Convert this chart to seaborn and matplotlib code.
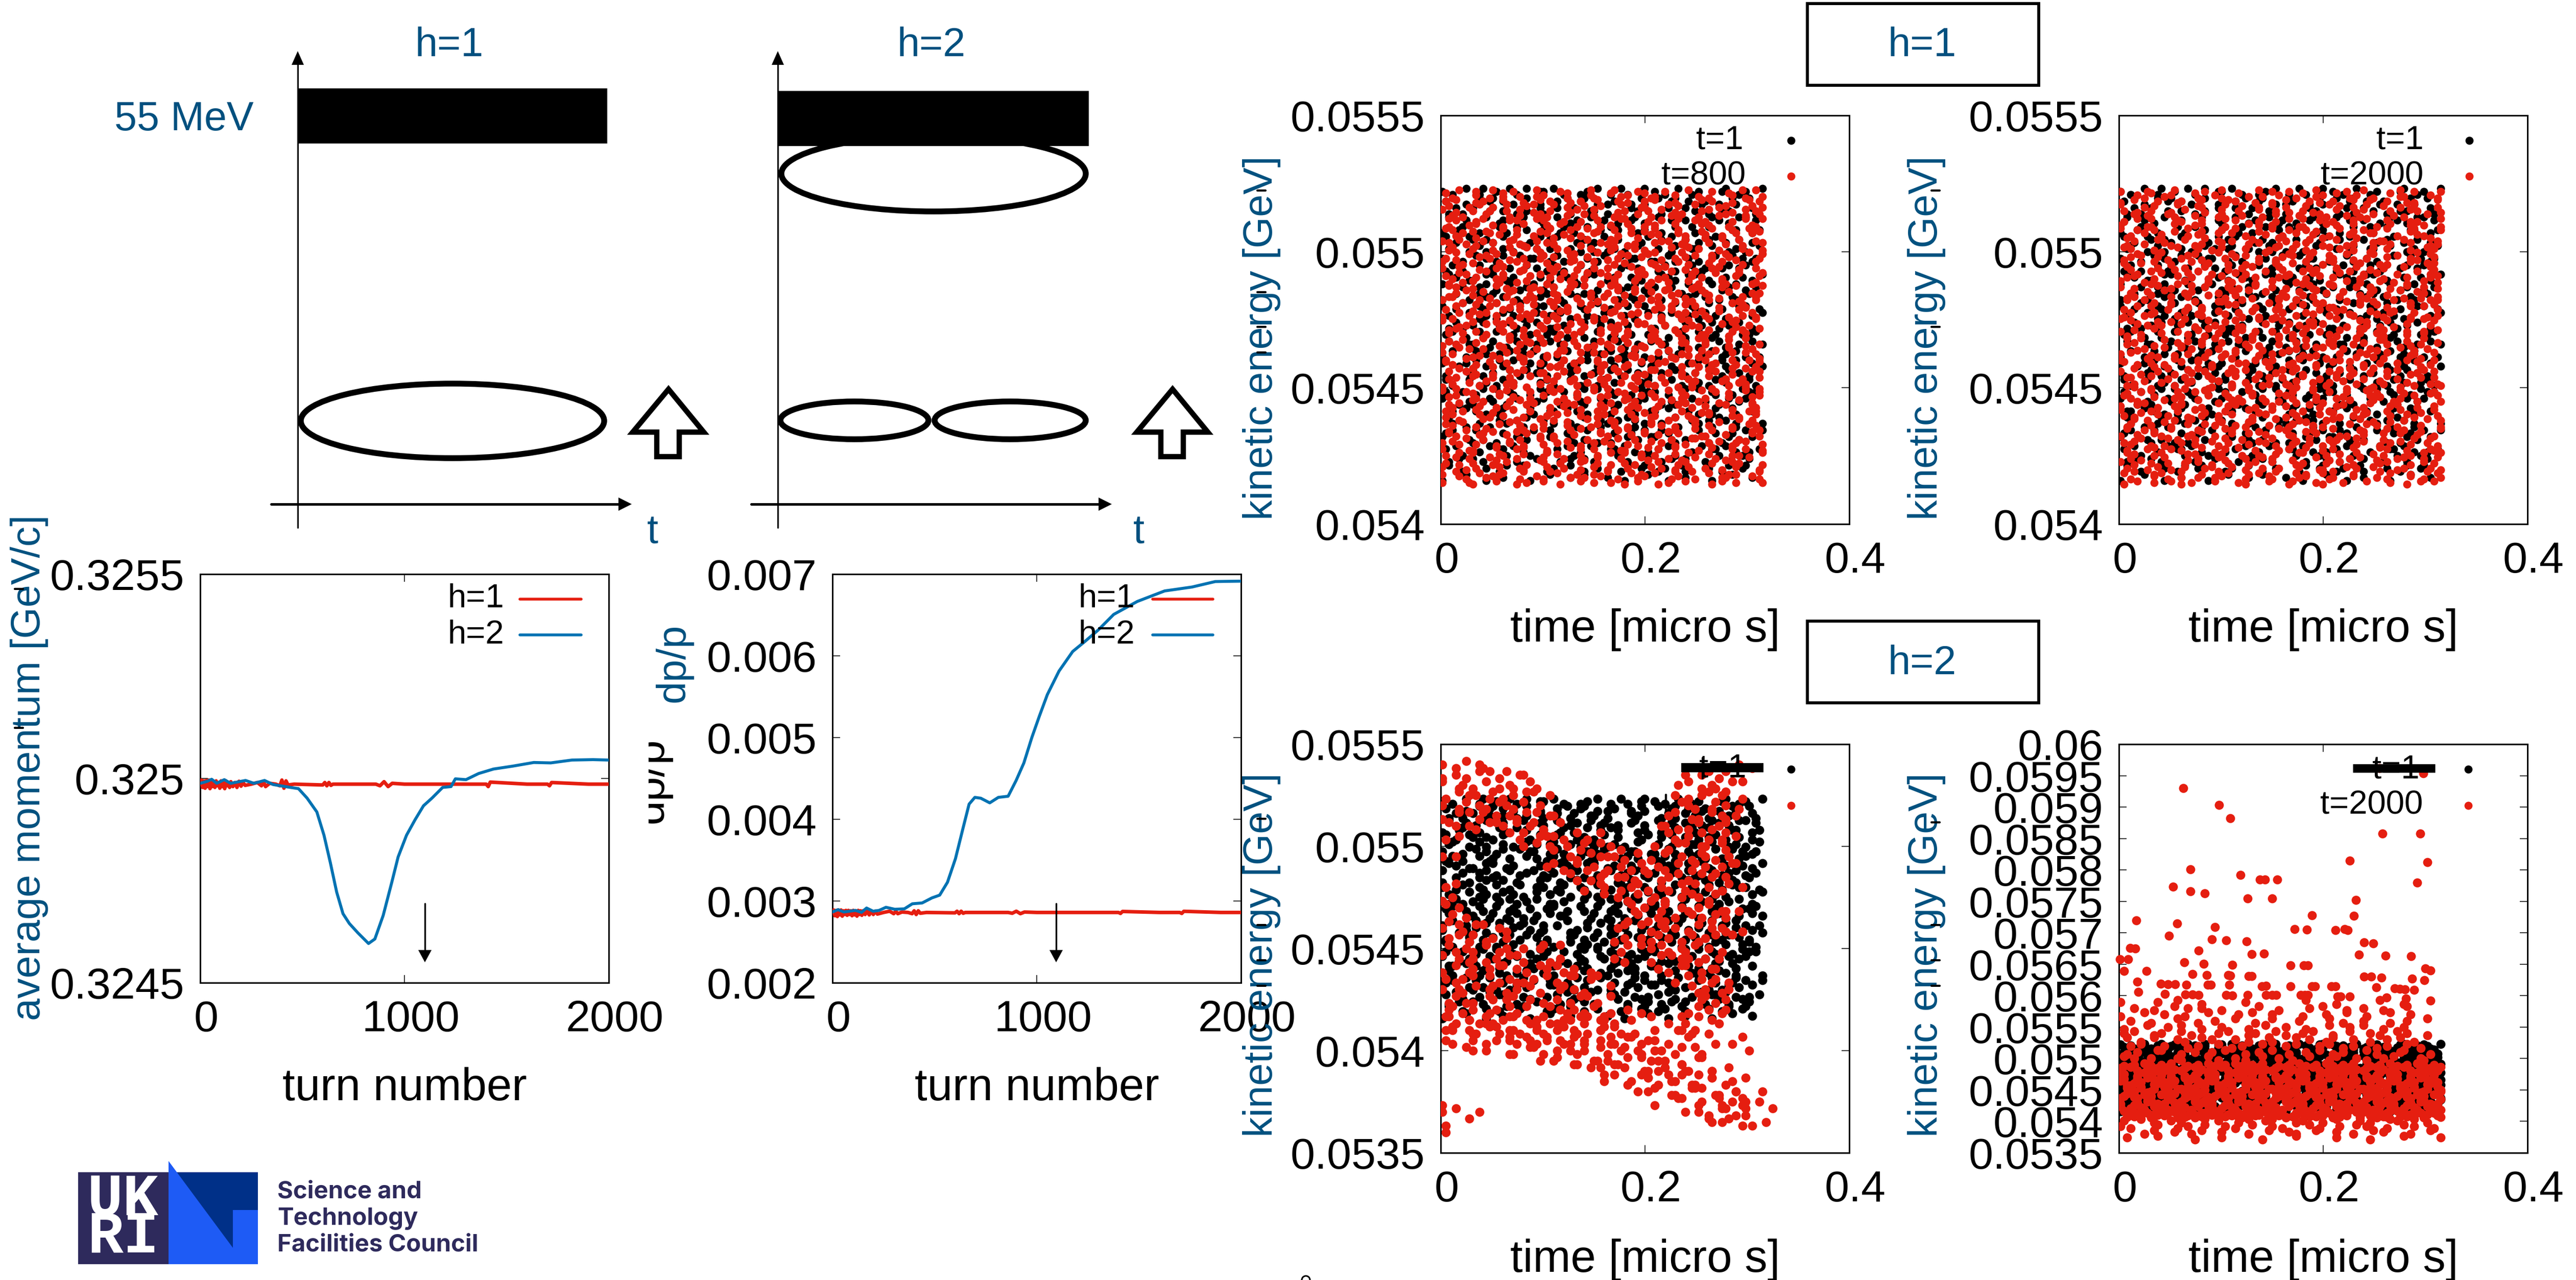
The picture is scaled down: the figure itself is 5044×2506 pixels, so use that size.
import matplotlib
matplotlib.use("Agg")
import matplotlib.pyplot as plt
from matplotlib.patches import Ellipse, Polygon, Rectangle
from matplotlib.transforms import ScaledTranslation
import seaborn as sns

W, H = 5044, 2506
BLUE_TEXT = "#00507f"
RED = "#e51e10"
CURVE = "#0072b2"
NAVY = "#2e2a5c"

# h=2 curves
h2_turns = [0, 35, 56, 81, 118, 149, 222, 263, 315, 357, 429, 481, 523, 571, 606, 637, 668, 699, 730, 772, 824,
            855, 896, 938, 969, 1010, 1052, 1093, 1135, 1187, 1228, 1249, 1301, 1363, 1436, 1529, 1633, 1716,
            1820, 1923, 2000]
h2_momentum = [.324988, .324993, .324998, .324988, .324997, .324988, .324995, .324988, .324995, .324985, .324979,
               .324975, .324952, .324918, .324861, .324794, .324722, .324669, .324645, .324622, .324596, .324607,
               .324665, .324746, .324808, .324861, .324899, .324933, .324952, .324978, .324980, .324999, .324997,
               .325012, .325023, .325030, .325039, .325038, .325045, .325046, .325045]
h2_dp_turns = [0, 27, 56, 113, 142, 167, 199, 228, 262, 305, 352, 391, 439, 487, 525, 563, 602, 640, 669, 697, 726,
               770, 812, 860, 899, 937, 976, 1013, 1052, 1109, 1176, 1234, 1301, 1377, 1492, 1626, 1760, 1874, 2000]
h2_dp = [.002866, .002894, .002866, .002885, .002861, .002914, .002875, .002885, .002923, .002899, .002904, .002966,
         .002976, .003038, .003072, .003229, .003517, .003899, .004186, .004268, .004258, .004201, .004268, .004282,
         .004474, .004689, .005000, .005263, .005526, .005813, .006053, .006172, .006316, .006507, .006665, .006794,
         .006842, .006909, .006914]

# h=1 stays flat with small ripples
h1_turns = [0, 6, 12, 18, 24, 30, 36, 42, 48, 54, 60, 66, 72, 78, 84, 90, 96, 102, 108, 114, 120, 126, 132, 138, 144,
            150, 160, 170, 180, 190, 200, 210, 220, 250, 280, 300, 310, 320, 340, 370, 390, 400, 410, 420, 430, 460,
            600, 610, 620, 630, 640, 650, 700, 860, 880, 900, 920, 940, 1000, 1200, 1400, 1410, 1420, 1600, 1700,
            1710, 1720, 1900, 2000]
h1_momentum = [.324986, .324996, .324978, .324994, .324976, .324995, .324980, .324996, .324975, .324993, .324980,
               .324992, .324978, .324994, .324982, .324990, .324976, .324994, .324980, .324992, .324975, .324994,
               .324982, .324990, .324978, .324992, .324980, .324990, .324978, .324993, .324981, .324990, .324983,
               .324986, .324990, .324982, .324992, .324980, .324988, .324986, .324982, .324996, .324976, .324994,
               .324984, .324986, .324984, .324990, .324982, .324990, .324983, .324986, .324986, .324986, .324982,
               .324992, .324980, .324988, .324986, .324986, .324986, .324980, .324991, .324986, .324986, .324982,
               .324990, .324986, .324986]
h1_dp = [.002860, .002890, .002820, .002885, .002810, .002890, .002830, .002890, .002815, .002880, .002835,
         .002885, .002825, .002885, .002835, .002880, .002820, .002885, .002830, .002880, .002815, .002885,
         .002835, .002880, .002825, .002880, .002835, .002880, .002830, .002880, .002835, .002875, .002840,
         .002860, .002875, .002845, .002875, .002845, .002865, .002860, .002845, .002880, .002835, .002880,
         .002850, .002860, .002855, .002875, .002845, .002875, .002850, .002860, .002860, .002860, .002850,
         .002875, .002845, .002865, .002860, .002860, .002860, .002848, .002872, .002860, .002860, .002848,
         .002874, .002860, .002860]

# scatter panels: one string per energy row, one character per time cell,
# "." is an empty cell, a digit says where in the cell the dot sits
t1_rows = ["47291538264179529386147295.61843", "5.83614729.52618849372615948372.", "92716.48537291648.35.92714865.37",
           "3.58294.167295394861726.49358214", "7619.3825.49172635.849.1372.6495", "2834571.9362.84715.9263.4851759.",
           "61938.47256169378472.591643.8472", "4.72581364927.581364972758.13694", "8173946.25817394.625.8173946251",
           "35972184.69357218469.357218.4693", "1.462839517462.83951746.28395174", "72935148.6293514.86729.35148672",
           "48167293.5481672935.48.167293548", "6.39581472639.581.47263958147.63", "9274163852974.163852974.1638529",
           "518372946.518372946.51837294.651", "3.64918275364.918275364918.27536", "7182563941782.5639417825.6394178",
           "49528371694.95283716949.52837169", "8.617439258.6174392586.17439258.", "27395814.627395814.62739.5814627",
           "5.481267935.48126793548.12679354", "19673482.519.673482519673.48251.", "6425891.3764258.9137642.5891376",
           "37.916852.479.16852479.1685247.9", "84253.79146.8253.7914682.5379146", "1.6748925.3167489.2531674.89253",
           "52.936417.85293.6417852.93641785", "96147.2835.96147.28359614.72835.", "3.7.59261.843.75.92618437.59261",
           "7.2.8.4.9.3.6.1.5.7.2.8.4.9.3.6."]

h1_800_rows = ["83.5.174.2.68.3.91.57.4.2.6.83.1", ".7.29.46.51.8.37.62.94.1.58.3.76", "52.84.1.736.96.2.58.41.7.36.9.25",
               "6.93.72.51.18.46.3.97.25.1.84.69", "18.46.53.76.92.1.84.53.7.62.9.14", ".47.2.96.38.5.14.7.29.63.8.51.42",
               "35.81.65.24.79.5.31.86.2.47.9.13", "9.62.47.1.53.8.96.2.74.1.35.8.67", "24.78.15.93.6.28.43.71.5.93.6.28",
               ".81.36.5.72.49.1.83.65.27.49.13.", "76.27.94.8.13.5.67.2.98.4.13.5.7", "3.58.1.67.24.9.35.84.1.67.2.49.3",
               "91.4.73.25.58.6.91.47.3.25.8.6.9", ".26.85.1.37.94.2.68.51.3.79.4.26", "58.36.9.46.1.72.85.3.9.41.6.27.5",
               "1.74.6.28.5.39.1.74.67.28.53.9.1", "43.9.51.7.62.8.45.39.51.7.62.8.4", ".68.2.73.9.14.56.8.27.3.91.4.5.6",
               "27.5.84.3.69.17.27.5.84.36.9.1.2", "9.41.6.52.8.37.9.4.16.5.28.37.94", "35.7.28.94.46.1.35.72.8.94.6.1.3",
               ".82.4.61.3.75.9.82.46.18.37.5.98", "64.19.5.37.2.86.4.19.53.7.28.6.4", "1.73.8.42.62.9.5.17.38.46.2.95.1",
               ".5.26.96.1.48.3.75.2.96.14.8.37.", "29.48.13.7.65.2.94.8.13.76.5.29.", "7.63.5.92.14.8.7.63.59.2.14.86.7",
               "41.7.86.3.52.9.41.78.6.35.2.94.1", ".95.2.14.6.83.7.95.21.4.68.3.75.", "62.8.37.4.1.59.6.28.37.41.5.96.2",
               "3.1.5.9.72.6.4.3.15.97.2.64.8.1."]

h1_2000_rows = ["4.67.2.85.19.3.46.72.85.1.93.4.6", ".38.51.9.27.6.43.8.51.92.7.64.38", "72.6.94.1.35.8.72.69.4.13.5.87.2",
                "1.85.3.67.2.49.18.5.36.72.49.1.8", "59.4.72.8.16.3.59.47.2.81.6.35.9", ".26.38.5.91.4.72.6.38.59.1.47.2",
                "83.1.67.4.25.9.83.16.7.42.5.98.3", "4.97.2.51.8.36.4.97.25.1.83.6.49", "16.5.83.7.42.9.16.58.3.74.2.91.6",
                ".72.4.96.3.18.5.72.49.6.31.8.57.", "38.61.5.29.7.4.38.6.15.2.97.4.38", "9.5.27.84.1.63.9.52.7.84.16.3.95",
                "24.8.3.6.71.5.92.48.36.7.15.9.24", ".67.1.95.3.48.2.67.19.5.34.8.26.", "81.39.4.7.52.6.81.3.94.75.2.68.1",
                "5.42.7.16.9.83.5.42.71.6.98.3.54", "37.6.85.2.9.41.37.68.5.29.4.1.37", ".9.14.63.7.58.2.9.14.63.75.8.29.",
                "62.8.3.49.1.75.62.83.4.91.7.5.62", "1.57.92.6.34.8.1.57.9.26.3.48.15", "48.3.7.15.69.2.48.37.1.56.9.2.48",
                ".76.2.84.9.13.5.76.28.4.91.3.57.", "95.1.46.3.82.7.95.14.6.38.2.79.5", "3.28.7.5.64.1.93.2.87.56.4.19.32",
                ".6.4.19.7.32.8.6.41.97.3.28.6.41", "27.83.5.16.9.4.27.83.51.6.94.7.2", "8.51.6.34.2.79.8.5.16.34.27.9.85",
                "14.9.72.6.85.3.14.97.2.68.5.3.14", ".36.4.18.5.97.2.36.41.8.59.72.6.", "75.2.9.63.1.48.75.29.6.31.4.8.75",
                "9.4.1.6.83.2.7.9.41.68.3.27.5.1."]

h2_800_rows = ["48267.......................759", "758339264...............46281.", "1947296738.............5296733",
               "83659174216............4862619", "4926835716.............3579148", "733915682264..........51983674",
               "356832426173.........64882951", "86....3916547283......27538914", "........4267591369...48216437",
               "45..........683654729.1693475", "..........51728486937572914631", "............38961547295283614",
               "52............7349628683715926", "74..............158294763581", "26................374916852978",
               "915...............82857436914", "4372168..........5139344826679", "6391845..........746925938413",
               "3857295.4613.....92363867159", "169485327.96.....47.93365845", "729463158352749......5831964",
               "5841396874283162.......726948", "4672618539.6147.3.......38495", "928734516.7593283........6174",
               "617495382.3684719.59....82594", "386927419518632647.....37268", "51683964.275148619.....6948",
               ".7.4.568285691763729.4.....793", "..2.5.9.3.7.6.4.8.15.6.3.9....5", "...........4.7.5582.6.49.3.....",
               "...............3.7.94519586....", "..................6.28.4.73.6..", "....................5.9.31.7.4.",
               "7......................3.8.2694", "42.6.....................5.3.71", "8.3.......................26.9.",
               "5.............................."]

h2_800_band_rows = ["2.6.8.3.5.9.4.7.1.6.3.8.........", ".4.7.2.9.5.3.8.6.1.7.4.5........", "5...8.3.6.2.7.4.9.3.5.8.2.......",
                    "...4...7.1.5.8.3.6.9.4.7.1......", ".........6.2.8.4.7.3.5.9.2......", "..............3.7.1.5.8.4.6.2...",
                    "................4.8.2.6.9.3.7.1.", "...................5.1.7.3.8.4.6", ".....................7.2.6.9.3.5",
                    "........................4.8.1.7.3", "..........................6.2.9.4"]

h2_2000_upper_rows = ["4..6.3..7...5.....2..8...3..7..", ".5.8.26.4.7..3.9..6.1.8.4.7.2..", "7.2.5.8.3..6.1.4..7.5.2.8.3.6..",
                      ".4.7.3.9.5.2.8.1.6..3.7.4.9.5.2", "8.3.6.1.7.4.9.2.5.8.3.6.1.7.4..", "52.84.17.63.95.28.41.73.69.25.8",
                      "3.72.68.14.59.37.26.81.49.53.7.", ".41.5.96.3.74.1.52.63.74.85.29.", "96.31.75.42.86.19.53.74.28.61.9",
                      "25.4.67.39.58.16.73.92.58.41.67"]
h2_2000_core_rows = ["85274196385274196385274196385274", "41963852741963852741963852741963", "73852419673852419673852419673852",
                     "29614785329614785329614785329614", "56387124956387124956387124956387", "18495263718495263718495263718495",
                     "64728193564728193564728193564728", "37159642837159642837159642837159", "92613857492613857492613857492613",
                     "58241763958241763958241763958241", "13976425813976425813976425813976", "76398512476398512476398512476398",
                     "42751986342751986342751986342751", "81536274981536274981536274981536", "39684217539684217539684217539684",
                     "65172938465172938465172938465172"]
h2_2000_lower_rows = ["92.63.8514.926.3851.492.638.5149", "5.18.47.26.93.51.84.72.69.35.18.", "47.3.96.2.58.1.47.39.6.25.8.14.7",
                      "..82.5.71.4.9.3.68.2.5.7.14.9.3", "6..3...8..4...7..2...5..9...1..6"]

t2000_sparse_time = [.063, .098, .109, .258, .295, .226, .302, .292, .070, .119, .138, .143, .155, .053, .070, .084,
                     .126, .150, .232, .017, .057, .094, .189, .230, .172, .184, .212, .221, .224, .049, .091, .105,
                     .125, .011, .016, .078, .130, .142, .240, .249, .235, .261, .286, .001, .009, .064, .083, .111,
                     .168, .181, .185, .005, .027, .300, .305, .072, .086, .107, .109, .127, .130, .240, .247, .257,
                     .287, .299, .018, .019, .041, .048, .055, .066, .087, .090, .108, .140, .144, .168, .189, .192,
                     .208, .212, .252, .270, .275, .280, .289, .045, .065, .072, .078, .105, .111, .126, .144, .150,
                     .154, .178, .182, .185, .214, .217, .226, .262, .281, .305, .255, .298]
t2000_sparse_energy = [.05930, .05903, .05882, .05858, .05858, .05815, .05812, .05780, .05801, .05792, .05785, .05785,
                       .05785, .05773, .05766, .05763, .05755, .05755, .05752, .05720, .05715, .05709, .05728, .05727,
                       .05706, .05705, .05704, .05706, .05704, .05695, .05690, .05688, .05686, .05676, .05675, .05672,
                       .05666, .05667, .05685, .05683, .05665, .05664, .05663, .05658, .05658, .05653, .05651, .05649,
                       .05648, .05648, .05648, .05639, .05639, .05643, .05640, .05634, .05633, .05633, .05632, .05631,
                       .05631, .05630, .05630, .05629, .05627, .05625, .05622, .05606, .05619, .05618, .05618, .05617,
                       .05617, .05617, .05617, .05615, .05616, .05615, .05615, .05615, .05615, .05615, .05613, .05612,
                       .05611, .05610, .05609, .05603, .05602, .05602, .05601, .05601, .05600, .05601, .05601, .05601,
                       .05601, .05601, .05601, .05601, .05599, .05599, .05599, .05597, .05595, .05592, .05962, .05954]

turn_ticks = [0, 1000, 2000]
turn_labels = ["0", "1000", "2000"]
time_ticks = [0, 0.2, 0.4]
time_labels = ["0", "0.2", "0.4"]
momentum_ticks = [0.3245, 0.325, 0.3255]
momentum_labels = ["0.3245", "0.325", "0.3255"]
dp_ticks = [0.002, 0.003, 0.004, 0.005, 0.006, 0.007]
dp_labels = ["0.002", "0.003", "0.004", "0.005", "0.006", "0.007"]
energy_ticks_top = [0.054, 0.0545, 0.055, 0.0555]
energy_labels_top = ["0.054", "0.0545", "0.055", "0.0555"]
energy_ticks_left = [0.0535, 0.054, 0.0545, 0.055, 0.0555]
energy_labels_left = ["0.0535", "0.054", "0.0545", "0.055", "0.0555"]
energy_ticks_wide = [0.0535, 0.054, 0.0545, 0.055, 0.0555, 0.056, 0.0565, 0.057, 0.0575, 0.058, 0.0585, 0.059,
                     0.0595, 0.06]
energy_labels_wide = ["0.0535", "0.054", "0.0545", "0.055", "0.0555", "0.056", "0.0565", "0.057", "0.0575", "0.058",
                      "0.0585", "0.059", "0.0595", "0.06"]


def read_rows(rows, top, dy, dx=0.0099):
    times, energies = [], []
    for r, row in enumerate(rows):
        for c, ch in enumerate(row):
            if ch == ".":
                continue
            d = int(ch) - 1
            times.append((c + 0.5 + (d % 3 - 1) * 0.33) * dx)
            energies.append(top - (r + (d // 3 - 1) * 0.33) * dy)
    return times, energies


sns.set_theme(style="ticks")
plt.rcParams["font.family"] = ["Liberation Sans", "DejaVu Sans"]
fig = plt.figure(figsize=(W / 100, H / 100), dpi=100, facecolor="white")
DOT = 165
DOT_TOP = 130


def panel(left, top, xlim, ylim, xticks, xlabels, yticks, ylabels, xlabel, label_y):
    ax = fig.add_axes([left / W, 1 - (top + 800) / H, 800 / W, 800 / H])
    ax.set_xlim(xlim)
    ax.set_ylim(ylim)
    ax.set_xticks(xticks)
    ax.set_xticklabels(xlabels)
    ax.set_yticks(yticks)
    ax.set_yticklabels(ylabels)
    ax.tick_params(direction="in", top=True, right=True, length=11, width=1.1, labelsize=62, colors="black")
    ax.tick_params(axis="x", pad=24)
    ax.tick_params(axis="y", pad=22)
    shift = ScaledTranslation(12 / 100, 0, fig.dpi_scale_trans)
    for lab in ax.get_xticklabels():
        lab.set_transform(lab.get_transform() + shift)
    for side in ax.spines.values():
        side.set_linewidth(2.2)
        side.set_color("black")
    ax.set_xlabel(xlabel, fontsize=64, color="black", va="center")
    ax.xaxis.set_label_coords(0.5, -(label_y - top - 800) / 800)
    ax.set_ylabel("")
    return ax


def draw_lines(ax, turns, values, h1_values):
    sns.lineplot(x=h1_turns, y=h1_values, ax=ax, color=RED, linewidth=5, estimator=None, legend=False, zorder=3)
    sns.lineplot(x=turns, y=values, ax=ax, color=CURVE, linewidth=4.2, estimator=None, legend=False, zorder=4)


def draw_dots(ax, black, red, extra=None, size=DOT):
    sns.scatterplot(x=black[0], y=black[1], ax=ax, color="black", s=size, linewidth=0, legend=False, zorder=3)
    sns.scatterplot(x=red[0], y=red[1], ax=ax, color=RED, s=size, linewidth=0, legend=False, zorder=4)
    if extra is not None:
        sns.scatterplot(x=extra[0], y=extra[1], ax=ax, color=RED, s=size, linewidth=0, legend=False, zorder=4,
                        clip_on=False)


black_top = read_rows(t1_rows, 0.05522, 0.000035)

ax = panel(392, 1124, (0, 2000), (0.3245, 0.3255), turn_ticks, turn_labels, momentum_ticks, momentum_labels,
           "turn number", 2131)
draw_lines(ax, h2_turns, h2_momentum, h1_momentum)
ax = panel(1630, 1124, (0, 2000), (0.002, 0.007), turn_ticks, turn_labels, dp_ticks, dp_labels, "turn number", 2131)
draw_lines(ax, h2_dp_turns, h2_dp, h1_dp)

ax = panel(2821, 226, (0, 0.4), (0.054, 0.0555), time_ticks, time_labels, energy_ticks_top, energy_labels_top,
           "time [micro s]", 1233)
draw_dots(ax, black_top, read_rows(h1_800_rows + h1_2000_rows[::-1], 0.05522, 0.000035 / 2 + 0.0), size=DOT_TOP)
ax = panel(4149, 226, (0, 0.4), (0.054, 0.0555), time_ticks, time_labels, energy_ticks_top, energy_labels_top,
           "time [micro s]", 1233)
draw_dots(ax, black_top, read_rows(h1_2000_rows + h1_800_rows[::-1], 0.05522, 0.000035 / 2 + 0.0), size=DOT_TOP)
ax = panel(2821, 1457, (0, 0.4), (0.0535, 0.0555), time_ticks, time_labels, energy_ticks_left, energy_labels_left,
           "time [micro s]", 2467)
main = read_rows(h2_800_rows, 0.0554, 0.00005)
band = read_rows(h2_800_band_rows, 0.05415, 0.00005)
draw_dots(ax, black_top, (main[0] + band[0], main[1] + band[1]))
ax = panel(4149, 1457, (0, 0.4), (0.0535, 0.06), time_ticks, time_labels, energy_ticks_wide, energy_labels_wide,
           "time [micro s]", 2467)
upper = read_rows(h2_2000_upper_rows, 0.0559, 0.0001)
core = read_rows(h2_2000_core_rows, 0.0549, 0.000055)
lower = read_rows(h2_2000_lower_rows, 0.0541, 0.00009)
draw_dots(ax, black_top, (upper[0] + core[0] + lower[0], upper[1] + core[1] + lower[1]),
          (t2000_sparse_time, t2000_sparse_energy))

# everything else sits on one overlay in pixel coordinates
ov = fig.add_axes([0, 0, 1, 1], facecolor="none")
ov.set_xlim(0, W)
ov.set_ylim(H, 0)
ov.axis("off")


def label(x, y, s, size=57, color=BLUE_TEXT, **kw):
    ov.text(x, y, s, fontsize=size, color=color, ha=kw.pop("ha", "center"), va=kw.pop("va", "center"), **kw)


def head(tip, base, half, color="black"):
    if tip[0] == base[0]:
        pts = [tip, (base[0] - half, base[1]), (base[0] + half, base[1])]
    else:
        pts = [tip, (base[0], base[1] - half), (base[0], base[1] + half)]
    ov.add_patch(Polygon(pts, closed=True, color=color, lw=0, zorder=6))


# the two sketches
for x0, rect_top, x1, tx in [(583, 173, 1189, 1278), (1523, 178, 2132, 2230)]:
    ov.plot([x0, x0], [1033, 120], color="black", lw=2.2, zorder=6)
    head((x0, 100), (x0, 127), 12)
    ov.plot([x0 - 52, x0 + 630], [987, 987], color="black", lw=3.6, zorder=6)
    head((x0 + 654, 987), (x0 + 628, 987), 13)
    ov.add_patch(Rectangle((x0, rect_top), x1 - x0, 108, color="black", lw=0, zorder=5))
    label(tx, 1042, "t")
label(880, 90, "h=1")
label(1824, 90, "h=2")
label(360, 234, "55 MeV")

ov.add_patch(Ellipse((886, 824), 594, 146, fill=False, ec="black", lw=8.2, zorder=4))
ov.add_patch(Ellipse((1828, 340), 596, 148, fill=False, ec="black", lw=8.2, zorder=4))
ov.add_patch(Ellipse((1673, 823), 290, 74, fill=False, ec="black", lw=8.2, zorder=4))
ov.add_patch(Ellipse((1978, 823), 296, 74, fill=False, ec="black", lw=8.2, zorder=4))

for dx in (0, 987):
    arrow_pts = [(1309 + dx, 762), (1378 + dx, 846), (1330 + dx, 846), (1330 + dx, 894), (1286 + dx, 894),
                 (1286 + dx, 846), (1239 + dx, 846)]
    ov.add_patch(Polygon(arrow_pts, closed=True, fill=False, ec="black", lw=7.5, joinstyle="miter", zorder=4))

# y labels
label(58, 1503, "average momentum [GeV/c]", rotation=90)
label(1319, 1298, "dp/p", rotation=90)
label(2470, 662, "kinetic energy [GeV]", rotation=90)
label(3773, 662, "kinetic energy [GeV]", rotation=90)
label(2470, 1870, "kinetic energy [GeV]", rotation=90, zorder=8)
label(3773, 1870, "kinetic energy [GeV]", rotation=90)

# cut off black dp/p left behind the plot
ov.text(1297, 1528, "dp/p", fontsize=62, color="black", rotation=90, ha="center", va="baseline",
        rotation_mode="anchor", zorder=2)
ov.add_patch(Rectangle((1200, 1430), 70, 195, color="white", lw=0, zorder=3))

# black specks showing through the labels
for x, y in [(37, 1153), (37, 1425), (2470, 373), (2470, 572), (2470, 640), (2470, 690), (3790, 373), (3790, 640),
             (2470, 1603), (2470, 1811), (2470, 1880), (2470, 1930), (3790, 1610), (3790, 1811), (3790, 1880),
             (3790, 1930)]:
    ov.plot([x - 8, x + 8], [y, y], color="black", lw=3, zorder=9)
ov.add_patch(Ellipse((2557, 2506), 16, 16, fill=False, ec="black", lw=2.2))

# line panel legends and arrows
for text_end, l0, l1, arrow_x in [(987, 1018, 1138, 832), (2222, 2257, 2375, 2068)]:
    label(text_end, 1172, "h=1", size=47, color="black", ha="right")
    label(text_end, 1243, "h=2", size=47, color="black", ha="right")
    ov.plot([l0, l1], [1173, 1173], color=RED, lw=4, zorder=5)
    ov.plot([l0, l1], [1243, 1243], color=CURVE, lw=4, zorder=5)
    ov.plot([arrow_x, arrow_x], [1769, 1862], color="black", lw=2.4, zorder=6)
    head((arrow_x, 1884), (arrow_x, 1860), 13)

# scatter panel legends
label(3413, 275, "t=1", size=47, color="black", ha="right")
label(3418, 345, "t=800", size=47, color="black", ha="right")
label(4745, 275, "t=1", size=47, color="black", ha="right")
label(4745, 345, "t=2000", size=47, color="black", ha="right")
label(3420, 1505, "t=1", size=47, color="black", ha="right")
label(4737, 1506, "t=1", size=47, color="black", ha="right", zorder=1)
label(4744, 1577, "t=2000", size=47, color="black", ha="right")
ov.plot([3292, 3453], [1503, 1503], color="black", lw=13, solid_capstyle="butt", zorder=5)
ov.plot([4607, 4768], [1504, 1504], color="black", lw=12, solid_capstyle="butt", zorder=2)
ov.plot([3334, 3334], [1484, 1524], color="black", lw=3, zorder=5)
ov.plot([3262, 3262], [1556, 1588], color="black", lw=3, zorder=5)
for px, top_y, low_y in [(3507, 275, 345), (4835, 275, 345), (3507, 1506, 1577), (4833, 1506, 1577)]:
    ov.scatter([px], [top_y], s=DOT_TOP, color="black", linewidths=0, zorder=6)
    ov.scatter([px], [low_y], s=DOT_TOP, color=RED, linewidths=0, zorder=6)

# boxed titles
for box_top, text_y, txt in [(7, 90, "h=1"), (1216, 1300, "h=2")]:
    ov.add_patch(Rectangle((3539, box_top), 453, 160, fill=False, ec="black", lw=4.2))
    label(3764, text_y, txt)

# UKRI / STFC logo
ov.add_patch(Rectangle((153, 2295), 177, 180, color=NAVY, lw=0))
ov.add_patch(Rectangle((330, 2295), 175, 180, color="#003088", lw=0))
ov.add_patch(Polygon([(330, 2273), (456, 2443), (456, 2369), (505, 2369), (505, 2475), (330, 2475)], closed=True,
                     color="#1e5bf5", lw=0))
ov.text(241, 2349, "UK", fontsize=84, color="white", family="Liberation Mono", weight="bold", ha="center", va="center")
ov.text(241, 2421, "RI", fontsize=84, color="white", family="Liberation Mono", weight="bold", ha="center", va="center")
for y, line in [(2333, "Science and"), (2386, "Technology"), (2438, "Facilities Council")]:
    ov.text(543, y, line, fontsize=34, color=NAVY, family="Inter", weight="bold", ha="left", va="center")

plt.savefig("out.png", dpi=100, facecolor="white")
plt.close()
